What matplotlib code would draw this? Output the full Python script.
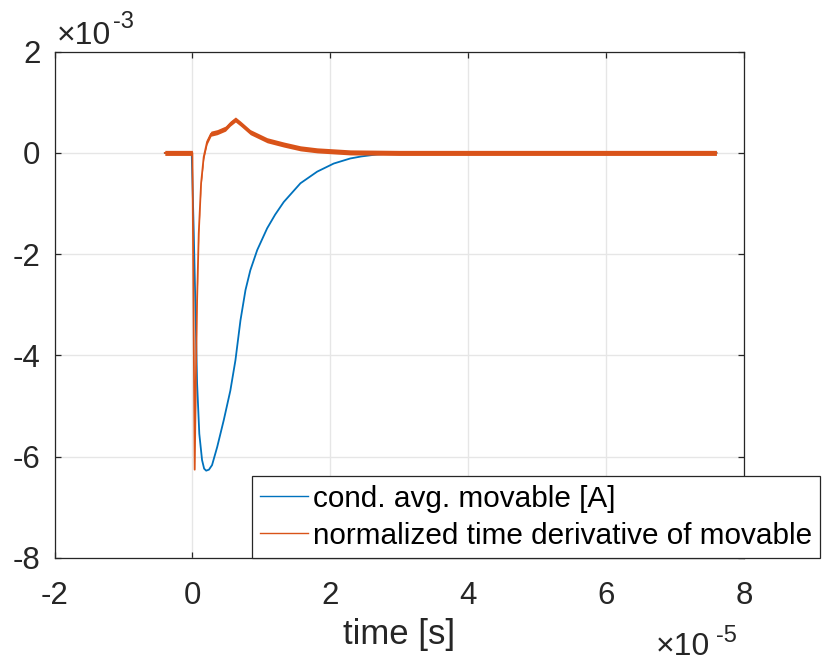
import matplotlib
matplotlib.use("Agg")
import matplotlib.pyplot as plt
import numpy as np

# ---------------- data ----------------
# blue: conditional average of movable [A]; time in 1e-5 s, value in 1e-3 A
t_blue = [-0.40, -0.10, -0.01, 0.02, 0.044, 0.068, 0.10, 0.14, 0.17, 0.20, 0.24, 0.285,
          0.36, 0.455, 0.55, 0.624, 0.697, 0.77, 0.84, 0.94, 1.084, 1.20, 1.325,
          1.567, 1.81, 2.05, 2.29, 2.45, 2.68, 3.10, 4.0, 5.0, 6.0, 7.0, 7.60]
y_blue = [0.0, 0.0, 0.0, -1.59, -3.04, -4.55, -5.55, -6.07, -6.24, -6.28, -6.26, -6.17,
          -5.81, -5.28, -4.70, -4.10, -3.31, -2.71, -2.32, -1.92, -1.49, -1.22, -0.97,
          -0.60, -0.37, -0.21, -0.11, -0.07, -0.03, 0.0, 0.0, 0.0, 0.0, 0.0, 0.0]

# orange: normalized time derivative of movable
t_orng = [-0.40, -0.20, 0.0, 0.033, 0.053, 0.068, 0.092, 0.126, 0.164, 0.213,
          0.27, 0.36, 0.48, 0.55, 0.624, 0.697, 0.84, 1.084, 1.325, 1.567,
          1.81, 2.29, 3.0, 4.0, 5.0, 6.0, 7.0, 7.60]
y_orng = [0.0, 0.0, 0.0, -6.26, -4.23, -2.91, -1.59, -0.60, -0.08, 0.22,
          0.38, 0.41, 0.48, 0.58, 0.66, 0.58, 0.41, 0.25, 0.165, 0.09,
          0.05, 0.01, 0.0, 0.0, 0.0, 0.0, 0.0, 0.0]
orng_noise = 0.05  # half-width of the noise band, 1e-3

t_scale = 1e-5
y_scale = 1e-3

x_ticks = [-2, 0, 2, 4, 6, 8]
y_ticks = [-8, -6, -4, -2, 0, 2]
labels = ["cond. avg. movable [A]", "normalized time derivative of movable"]
x_label = "time [s]"

# ---------------- style ----------------
plt.rcParams['font.family'] = ['Liberation Sans', 'DejaVu Sans']
plt.rcParams['axes.unicode_minus'] = False
dark = '#262626'
c_blue = '#0072BD'
c_orng = '#D95319'

fig = plt.figure(figsize=(8.24, 6.62), dpi=100)
ax = fig.add_axes([54.5 / 824, 1 - 557.7 / 662, (744 - 54.5) / 824, (557.7 - 51.7) / 662])

tb = np.array(t_blue) * t_scale
yb = np.array(y_blue) * y_scale
to = np.array(t_orng) * t_scale
yo = np.array(y_orng) * y_scale
nw = orng_noise * y_scale

lb, = ax.plot(tb, yb, color=c_blue, lw=1.3, zorder=3)
ax.fill_between(to, yo - nw, yo + nw, color=c_orng, lw=0, zorder=4)
lo, = ax.plot(to, yo, color=c_orng, lw=1.3, zorder=4)

ax.set_xlim(x_ticks[0] * t_scale, x_ticks[-1] * t_scale)
ax.set_ylim(y_ticks[0] * y_scale, y_ticks[-1] * y_scale)
ax.set_xticks(np.array(x_ticks) * t_scale)
ax.set_xticklabels([str(v) for v in x_ticks])
ax.set_yticks(np.array(y_ticks) * y_scale)
ax.set_yticklabels([str(v) for v in y_ticks])

ax.grid(True, color='#e6e6e6', lw=1.0, zorder=0)
ax.set_axisbelow(True)
for s in ax.spines.values():
    s.set_color(dark)
    s.set_linewidth(0.9)
ax.tick_params(direction='in', length=4, width=0.9, colors=dark, labelsize=22.5,
               top=True, right=True)
ax.tick_params(axis='x', pad=17)
ax.tick_params(axis='y', pad=10)

ax.set_xlabel(x_label, fontsize=25, color=dark, labelpad=5)

# exponent labels (MATLAB style)
fig.text(57 / 824, 1 - 44 / 662, '×10', fontsize=23, color=dark, ha='left', va='baseline')
fig.text(113 / 824, 1 - 28 / 662, '-3', fontsize=17, color=dark, ha='left', va='baseline')
fig.text(656 / 824, 1 - 655 / 662, '×10', fontsize=23, color=dark, ha='left', va='baseline')
fig.text(716 / 824, 1 - 642 / 662, '-5', fontsize=17, color=dark, ha='left', va='baseline')

leg = ax.legend([lb, lo], labels, loc='lower left',
                bbox_to_anchor=(251.7 / 824, 1 - 558 / 662),
                bbox_transform=fig.transFigure, borderaxespad=0,
                fontsize=21.4, frameon=True, fancybox=False, framealpha=1,
                handlelength=1.6, handletextpad=0.17, borderpad=0.28,
                labelspacing=0.3)
leg.get_frame().set_edgecolor(dark)
leg.get_frame().set_linewidth(0.9)
leg.set_zorder(10)
for h in leg.get_lines():
    h.set_linewidth(1.0)
for t in leg.get_texts():
    t.set_color('black')

fig.savefig('out.png', dpi=100)
